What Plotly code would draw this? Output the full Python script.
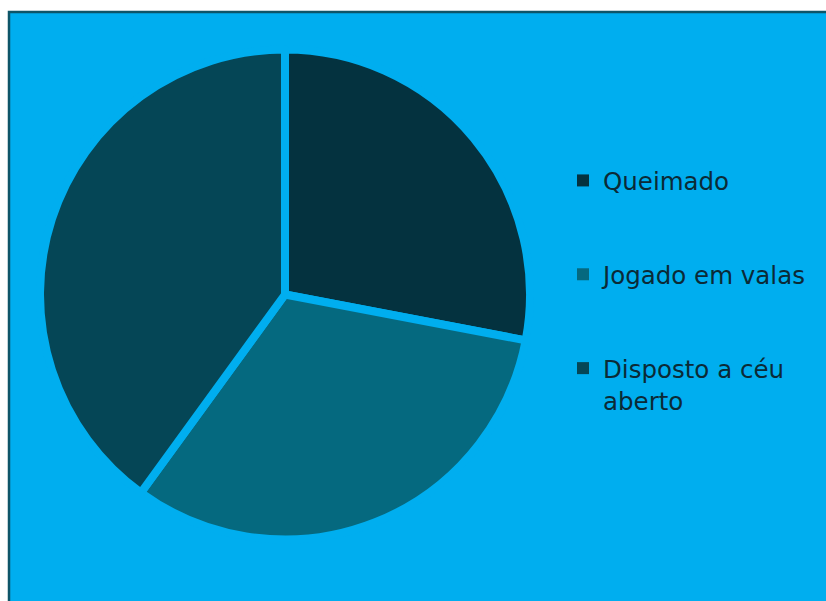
import plotly.graph_objects as go

# Destination of the waste (share of responses)
categories = ["Queimado", "Jogado em valas", "Disposto a céu<br>aberto"]
values = [28, 32, 40]
colors = ["#04323F", "#05697F", "#054656"]

W, H = 826, 601
BG = "#00AEEF"

fig = go.Figure()

# Pie centred at (285, 294) px with radius ~245 px
cx, cy, r = 285, 294.5, 245
fig.add_trace(go.Pie(
    labels=categories,
    values=values,
    sort=False,
    direction="clockwise",
    rotation=0,
    marker=dict(colors=colors, line=dict(color=BG, width=8)),
    textinfo="none",
    hoverinfo="label+percent",
    showlegend=False,
    domain=dict(x=[(cx - r) / W, (cx + r) / W],
                y=[1 - (cy + r) / H, 1 - (cy - r) / H]),
))

# Legend entries, one group each so the gap between them can be set
for i, (lab, col) in enumerate(zip(categories, colors)):
    fig.add_trace(go.Scatter(
        x=[None], y=[None], mode="markers", name=lab,
        marker=dict(symbol="square", size=14, color=col),
        legendgroup=f"g{i}", showlegend=True,
    ))

fig.update_layout(
    width=W, height=H,
    margin=dict(l=0, r=0, t=0, b=0),
    paper_bgcolor="white",
    plot_bgcolor="rgba(0,0,0,0)",
    xaxis=dict(visible=False),
    yaxis=dict(visible=False),
    font=dict(family="DejaVu Sans", size=24.5, color="#0B2A36"),
    legend=dict(
        x=563 / W, y=1 - 158 / H, xanchor="left", yanchor="top",
        bgcolor="rgba(0,0,0,0)", borderwidth=0,
        tracegroupgap=59, valign="top", itemsizing="constant",
        traceorder="grouped",
    ),
    shapes=[dict(
        type="rect", xref="paper", yref="paper", layer="below",
        x0=9 / W, x1=1.05, y0=-0.05, y1=1 - 12 / H,
        fillcolor=BG, line=dict(color="#0E5568", width=2.5),
    )],
)

fig.write_html("out.html")
